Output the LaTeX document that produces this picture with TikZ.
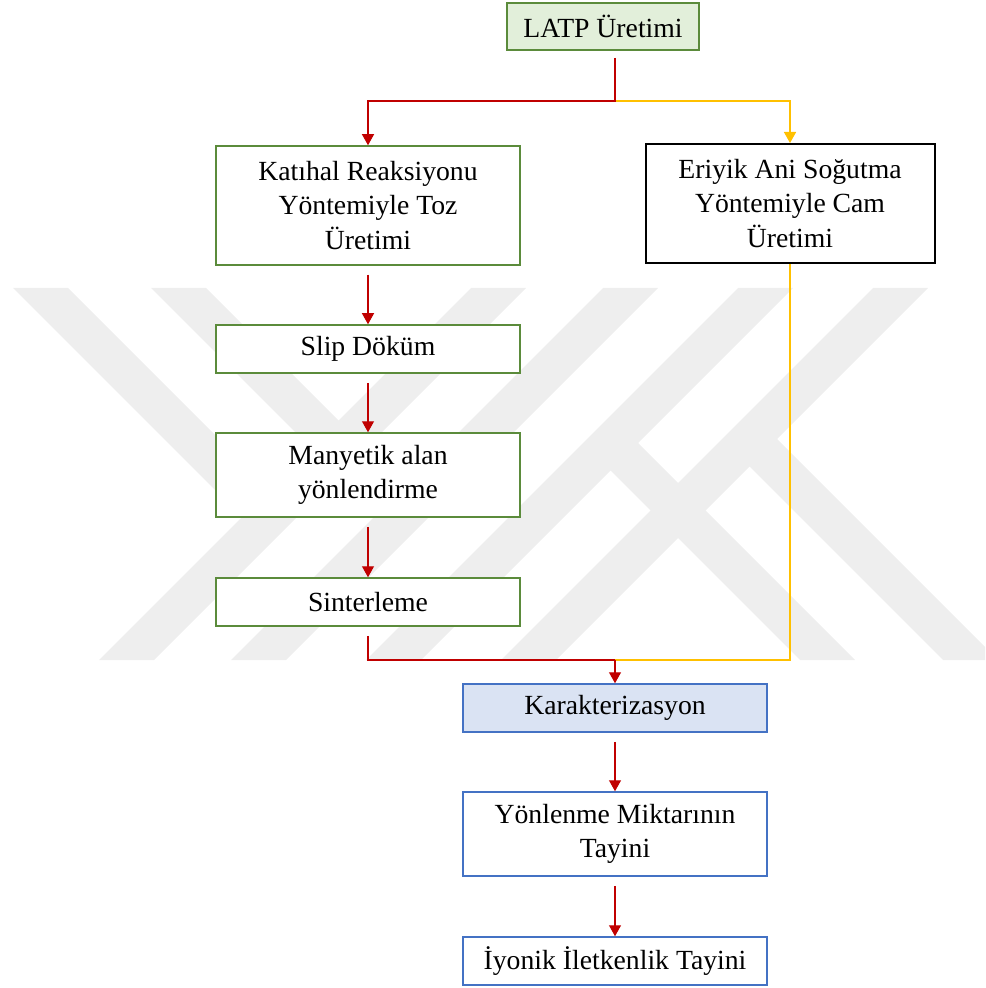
\documentclass[tikz,border=0pt]{standalone}
\usepackage{fontspec}
\setmainfont{Liberation Serif}
\usetikzlibrary{arrows.meta}

\definecolor{boxgreen}{HTML}{5B8B3B}
\definecolor{fillgreen}{HTML}{E2EFDA}
\definecolor{boxblue}{HTML}{4472C4}
\definecolor{fillblue}{HTML}{DAE3F3}
\definecolor{linered}{HTML}{C00000}
\definecolor{lineyellow}{HTML}{FFC000}
\definecolor{wmgray}{HTML}{EEEEEE}

\begin{document}
\begin{tikzpicture}[x=0.5pt, y=-0.5pt,
  box/.style={draw, rectangle, line width=0.75pt, inner sep=0pt, align=center, minimum width=152pt, font=\fontsize{13.85}{17.25}\selectfont},
  gbox/.style={box, draw=boxgreen},
  bbox/.style={box, draw=boxblue},
  rline/.style={draw, color=linered, line width=0.6pt},
  yline/.style={draw, color=lineyellow, line width=0.75pt},
  rarrow/.style={rline, -{Triangle[length=5.5pt,width=6pt]}},
  yarrow/.style={yline, -{Triangle[length=5.5pt,width=6pt]}}
]
\useasboundingbox (0,0) rectangle (985,988);

% background mark
\begin{scope}
\clip (0,0) rectangle (985,988);
\foreach \l in {471,603,738,873}
  \fill[wmgray] (\l,288) -- ++(55,0) -- ++(-372,372) -- ++(-55,0) -- cycle;
\fill[wmgray] (13,288) -- (68,288) -- (283.25,503.25) -- (255.75,530.75) -- cycle;
\fill[wmgray] (151,288) -- (206,288) -- (418.25,500.25) -- (390.75,527.75) -- cycle;
\fill[wmgray] (800,660) -- (855,660) -- (624.25,429.25) -- (596.75,456.75) -- cycle;
\fill[wmgray] (943,660) -- (998,660) -- (763.25,425.25) -- (735.75,452.75) -- cycle;
\end{scope}

% steps
\node[gbox, fill=fillgreen, minimum width=96pt, minimum height=23.5pt] (latp) at (603,26.5) {LATP Üretimi};
\node[gbox, fill=white, minimum height=59.5pt] (katihal) at (368,205.5) {Katıhal Reaksiyonu\\Yöntemiyle Toz\\Üretimi};
\node[box, fill=white, line width=1pt, minimum width=144.5pt, minimum height=59.5pt] (eriyik) at (790,203.5) {Eriyik Ani Soğutma\\Yöntemiyle Cam\\Üretimi};
\node[gbox, fill=white, minimum height=24pt] (slip) at (368,349) {Slip Döküm};
\node[gbox, fill=white, minimum height=42pt] (manyetik) at (368,475) {Manyetik alan\\yönlendirme};
\node[gbox, fill=white, minimum height=24pt] (sinter) at (368,602) {Sinterleme};
\node[bbox, fill=fillblue, minimum height=24pt] (karak) at (615,708) {Karakterizasyon};
\node[bbox, fill=white, minimum height=42pt] (yonlenme) at (615,834) {Yönlenme Miktarının\\Tayini};
\node[bbox, fill=white, minimum height=24pt] (iyonik) at (615,961) {İyonik İletkenlik Tayini};

\coordinate (top) at (615,58);
\coordinate (split) at (615,101);
\coordinate (merge) at (615,660);

% connectors
\draw[yline] (top) -- (split);
\draw[yarrow] (split) -| (eriyik.north);
\draw[rarrow] (top) -- (split) -| (katihal.north);
\draw[yline] (eriyik.south) |- (merge);
\draw[rline, shorten <=4.5pt] (sinter.south) |- (merge);
\draw[rarrow] (merge) -- (karak.north);
\path[rarrow, shorten <=4.5pt]
  (katihal) edge (slip)
  (slip) edge (manyetik)
  (manyetik) edge (sinter)
  (karak) edge (yonlenme)
  (yonlenme) edge (iyonik);
\end{tikzpicture}
\end{document}
